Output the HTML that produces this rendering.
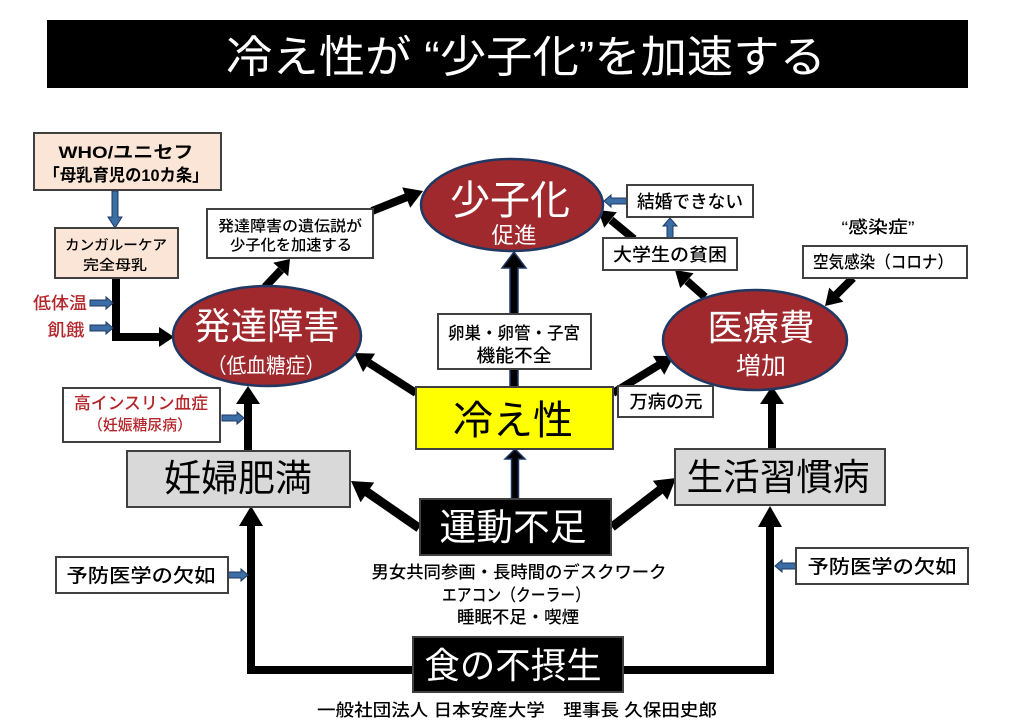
<!DOCTYPE html>
<html><head><meta charset="utf-8">
<style>
html,body{margin:0;padding:0;background:#fff;}
svg{display:block;}
text{font-family:"Liberation Sans","Noto Sans CJK JP",sans-serif;}
</style></head>
<body>
<svg width="1024" height="724" viewBox="0 0 1024 724" xmlns="http://www.w3.org/2000/svg">
<rect x="0" y="0" width="1024" height="724" fill="#fff"/>
<!-- Title -->
<rect x="47" y="20" width="921" height="68" fill="#000"/>
<text x="526" y="72" font-size="44" fill="#fff" text-anchor="middle" textLength="600" lengthAdjust="spacingAndGlyphs">冷え性が “少子化”を加速する</text>

<!-- Black connectors -->
<g fill="#000" stroke="none">
  <path d="M116,278 L116,337 L162,337" fill="none" stroke="#000" stroke-width="8"/>
  <polygon points="174,337 159,327 159,347"/>
  <line x1="265" y1="287" x2="281" y2="270" stroke="#000" stroke-width="8"/>
  <polygon points="290,259 288.2,276.2 273.2,262.8"/>
  <line x1="372" y1="211" x2="407" y2="197" stroke="#000" stroke-width="8"/>
  <polygon points="423,191 410.2,207.8 402.2,187.4"/>
  <line x1="416" y1="393" x2="369" y2="363" stroke="#000" stroke-width="8"/>
  <polygon points="354,353 375.1,353.6 363.1,372.0"/>
  <line x1="613" y1="393" x2="659" y2="365" stroke="#000" stroke-width="8"/>
  <polygon points="674,356 664.3,374.7 652.9,355.9"/>
  <line x1="705" y1="297" x2="687" y2="281" stroke="#000" stroke-width="8"/>
  <polygon points="675,270 693.6,273.3 680.2,288.1"/>
  <line x1="634" y1="239" x2="611" y2="220" stroke="#000" stroke-width="8"/>
  <polygon points="598,210 616.8,212.2 604.2,227.8"/>
  <line x1="853" y1="278" x2="836" y2="295" stroke="#000" stroke-width="8"/>
  <polygon points="825,306 829.2,287.6 843.4,301.8"/>
  <line x1="419" y1="528" x2="367" y2="492" stroke="#000" stroke-width="9"/>
  <polygon points="351,481 374.2,482.5 360.6,502.3"/>
  <line x1="612" y1="527" x2="660" y2="490" stroke="#000" stroke-width="9"/>
  <polygon points="676,478 667.4,499.7 652.8,480.7"/>
  <line x1="248" y1="452" x2="248" y2="400" stroke="#000" stroke-width="8"/>
  <polygon points="248,386 236,404 260,404"/>
  <line x1="772" y1="449" x2="772" y2="400" stroke="#000" stroke-width="8"/>
  <polygon points="772,386 760,404 784,404"/>
  <path d="M413,670 L251,670 L251,523" fill="none" stroke="#000" stroke-width="8"/>
  <polygon points="251,506 239,526 263,526"/>
  <path d="M623,670 L770,670 L770,524" fill="none" stroke="#000" stroke-width="8"/>
  <polygon points="770,506 758,527 782,527"/>
</g>
<polygon points="514,252 526,268 518,268 518,388 510,388 510,268 502,268" fill="#000" stroke="#1f3864" stroke-width="1.5"/>
<polygon points="515,449 525,459 518.5,459 518.5,500 511.5,500 511.5,459 505,459" fill="#000" stroke="#1f3864" stroke-width="1.5"/>

<g fill="#3b6ea5" stroke="#1f3864" stroke-width="1">
  <polygon points="112,191 118,191 118,217 122,217 115,228 108,217 112,217"/>
  <polygon points="90,300 106,300 106,297 113,303 106,309 106,306 90,306"/>
  <polygon points="90,325 106,325 106,322 113,328 106,334 106,331 90,331"/>
  <polygon points="222,415 237,415 237,412 244,418 237,424 237,421 222,421"/>
  <polygon points="228,572 241,572 241,569 248,575 241,581 241,578 228,578"/>
  <polygon points="796,563 782,563 782,560 775,566 782,572 782,569 796,569"/>
  <polygon points="627,198 611,198 611,195 604,201 611,207 611,204 627,204"/>
  <polygon points="667,238 673,238 673,226 677,226 670,218 663,226 667,226"/>
</g>

<g fill="#a0292e" stroke="#1f3864" stroke-width="2.5">
  <ellipse cx="267" cy="336" rx="94" ry="50"/>
  <ellipse cx="512" cy="205" rx="91" ry="46"/>
  <ellipse cx="755" cy="340" rx="92" ry="50"/>
</g>

<g stroke="#404040" stroke-width="2">
  <rect x="34" y="133" width="187" height="57" fill="#fbe5d6"/>
  <rect x="55" y="228" width="123" height="50" fill="#fbe5d6"/>
  <rect x="207" y="209" width="166" height="49" fill="#fff"/>
  <rect x="63" y="388" width="157" height="54" fill="#fff"/>
  <rect x="127" y="451" width="223" height="56" fill="#d9d9d9"/>
  <rect x="56" y="557" width="172" height="36" fill="#fff"/>
  <rect x="438" y="314" width="153" height="55" fill="#fff"/>
  <rect x="416" y="387" width="197" height="62" fill="#ffff00"/>
  <rect x="618" y="386" width="95" height="31" fill="#fff"/>
  <rect x="627" y="185" width="126" height="32" fill="#fff"/>
  <rect x="603" y="238" width="134" height="32" fill="#fff"/>
  <rect x="803" y="246" width="164" height="32" fill="#fff"/>
  <rect x="675" y="449" width="210" height="56" fill="#d9d9d9"/>
  <rect x="796" y="548" width="172" height="36" fill="#fff"/>
  <rect x="420" y="499" width="191" height="56" fill="#000"/>
  <rect x="413" y="637" width="210" height="55" fill="#000"/>
</g>

<g text-anchor="middle">
  <text x="126" y="158" font-size="17" font-weight="bold" textLength="135" lengthAdjust="spacingAndGlyphs">WHO/ユニセフ</text>
  <text x="126" y="181" font-size="17" font-weight="bold" textLength="165" lengthAdjust="spacingAndGlyphs">「母乳育児の10カ条」</text>
  <text x="116" y="250" font-size="14" font-weight="500" textLength="102" lengthAdjust="spacingAndGlyphs">カンガルーケア</text>
  <text x="115" y="270" font-size="14" font-weight="500" textLength="64" lengthAdjust="spacingAndGlyphs">完全母乳</text>

  <text x="60" y="309" font-size="17" fill="#b3262b" font-weight="500" textLength="54" lengthAdjust="spacingAndGlyphs">低体温</text>
  <text x="66" y="336" font-size="17" fill="#b3262b" font-weight="500" textLength="37" lengthAdjust="spacingAndGlyphs">飢餓</text>

  <text x="267" y="339" font-size="37" fill="#fff" textLength="145" lengthAdjust="spacingAndGlyphs">発達障害</text>
  <text x="266" y="373" font-size="21" fill="#fff" textLength="118" lengthAdjust="spacingAndGlyphs">（低血糖症）</text>

  <text x="290" y="231" font-size="15" font-weight="500" textLength="144" lengthAdjust="spacingAndGlyphs">発達障害の遺伝説が</text>
  <text x="291" y="250" font-size="15" font-weight="500" textLength="122" lengthAdjust="spacingAndGlyphs">少子化を加速する</text>

  <text x="510" y="214" font-size="40" fill="#fff" textLength="120" lengthAdjust="spacingAndGlyphs">少子化</text>
  <text x="514" y="243" font-size="22" fill="#fff" textLength="45" lengthAdjust="spacingAndGlyphs">促進</text>

  <text x="690" y="208" font-size="18" font-weight="500" textLength="106" lengthAdjust="spacingAndGlyphs">結婚できない</text>
  <text x="670" y="261" font-size="18" font-weight="500" textLength="114" lengthAdjust="spacingAndGlyphs">大学生の貧困</text>

  <text x="878" y="233" font-size="17" font-weight="500" textLength="73" lengthAdjust="spacingAndGlyphs">“感染症”</text>
  <text x="883" y="268" font-size="17" font-weight="500" textLength="140" lengthAdjust="spacingAndGlyphs">空気感染（コロナ）</text>

  <text x="761" y="340" font-size="36" fill="#fff" textLength="107" lengthAdjust="spacingAndGlyphs">医療費</text>
  <text x="761" y="374" font-size="24" fill="#fff" textLength="50" lengthAdjust="spacingAndGlyphs">増加</text>

  <text x="514" y="339" font-size="17" font-weight="500" textLength="132" lengthAdjust="spacingAndGlyphs">卵巣・卵管・子宮</text>
  <text x="514" y="362" font-size="18" font-weight="500" textLength="75" lengthAdjust="spacingAndGlyphs">機能不全</text>

  <text x="513" y="434" font-size="40" textLength="120" lengthAdjust="spacingAndGlyphs">冷え性</text>
  <text x="666" y="408" font-size="18" font-weight="500" textLength="73" lengthAdjust="spacingAndGlyphs">万病の元</text>

  <text x="141" y="409" font-size="17" fill="#b3262b" font-weight="500" textLength="134" lengthAdjust="spacingAndGlyphs">高インスリン血症</text>
  <text x="140" y="430" font-size="15" fill="#b3262b" font-weight="500" textLength="104" lengthAdjust="spacingAndGlyphs">（妊娠糖尿病）</text>

  <text x="238" y="491" font-size="37" textLength="148" lengthAdjust="spacingAndGlyphs">妊婦肥満</text>
  <text x="778" y="490" font-size="37" textLength="183" lengthAdjust="spacingAndGlyphs">生活習慣病</text>

  <text x="513" y="540" font-size="37" fill="#fff" textLength="147" lengthAdjust="spacingAndGlyphs">運動不足</text>
  <text x="519" y="578" font-size="17" font-weight="500" textLength="295" lengthAdjust="spacingAndGlyphs">男女共同参画・長時間のデスクワーク</text>
  <text x="516" y="601" font-size="17" font-weight="500" textLength="148" lengthAdjust="spacingAndGlyphs">エアコン（クーラー）</text>
  <text x="518" y="623" font-size="17" font-weight="500" textLength="122" lengthAdjust="spacingAndGlyphs">睡眠不足・喫煙</text>
  <text x="513" y="678" font-size="36" fill="#fff" textLength="177" lengthAdjust="spacingAndGlyphs">食の不摂生</text>
  <text x="517" y="716" font-size="17" font-weight="500" textLength="400" lengthAdjust="spacingAndGlyphs">一般社団法人 日本安産大学　理事長 久保田史郎</text>

  <text x="141" y="582" font-size="19" font-weight="500" textLength="149" lengthAdjust="spacingAndGlyphs">予防医学の欠如</text>
  <text x="882" y="573" font-size="19" font-weight="500" textLength="149" lengthAdjust="spacingAndGlyphs">予防医学の欠如</text>
</g>
</svg>
</body></html>
